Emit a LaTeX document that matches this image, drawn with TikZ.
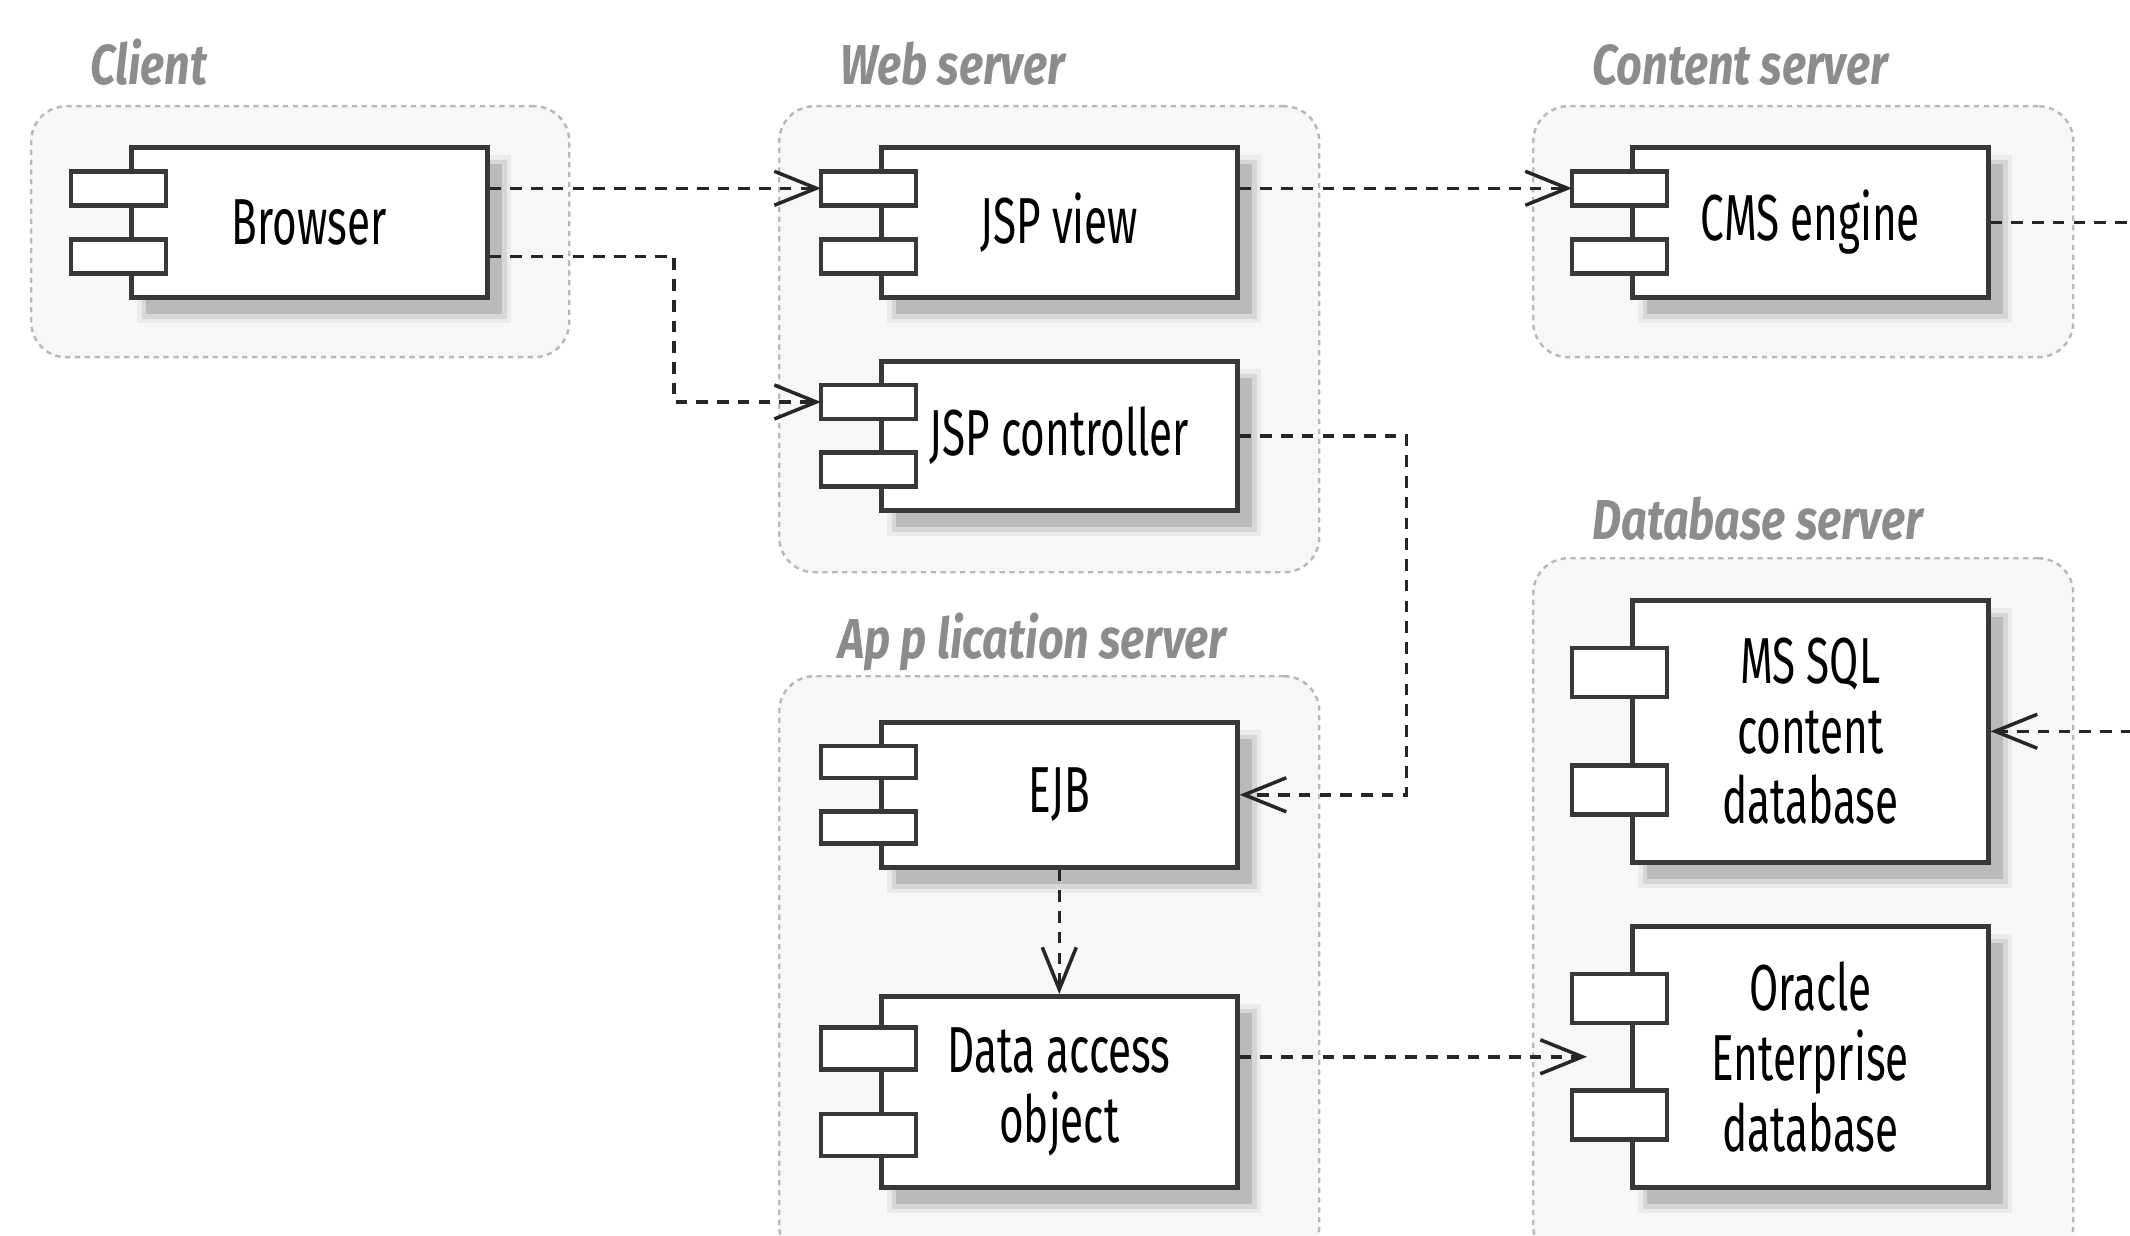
\documentclass[tikz,border=0pt]{standalone}
\usepackage{fontspec}
\setmainfont[FakeStretch=0.65]{Fira Sans}
\newfontfamily\grpfont[FakeStretch=0.8]{Fira Sans}
\usetikzlibrary{calc, arrows.meta, shadows, positioning}

\begin{document}
\begin{tikzpicture}
            \tikzset{
                group/.style={
                    draw=black!28, fill=black!3, line width=0.7pt,
                    dash pattern=on 1.5pt off 1.3pt,
                    rounded corners=0.35cm, anchor=north west, inner sep=0pt
                },
                group label/.style={
                    anchor=base west, text=black!45,
                    font=\grpfont\bfseries\itshape\fontsize{16}{18}\selectfont
                },
                comp/.style={
                    draw=black!78, fill=white, line width=1.3pt,
                    anchor=north west, minimum width=3.56cm, inner sep=0pt,
                    align=center, font=\fontsize{18.5}{20}\selectfont,
                    general shadow={shadow xshift=0.15cm, shadow yshift=-0.17cm,
                        fill=black!8, draw=black!8, line width=0.18cm},
                    general shadow={shadow xshift=0.15cm, shadow yshift=-0.17cm,
                        fill=black!16, draw=black!16, line width=0.09cm},
                    general shadow={shadow xshift=0.15cm, shadow yshift=-0.17cm,
                        fill=black!27, draw=none}
                },
                port/.style={draw=black!78, fill=white, line width=1.3pt},
                dep/.style={
                    draw=black!85, line width=1pt, dash pattern=on 3.3pt off 2.6pt,
                    -{Straight Barb[length=0.42cm, width=0.34cm]}
                }
            }

            % page frame, the right side runs off the page
            \path[use as bounding box] (0,0) rectangle (21.3,-12.36);
            \clip (0,0) rectangle (21.3,-12.36);

            % --- NODES (the servers) ---
            \node[group, minimum width=5.38cm, minimum height=2.51cm] (client) at (0.30,-1.05) {};
            \node[group, minimum width=5.40cm, minimum height=4.66cm] (websrv) at (7.78,-1.05) {};
            \node[group, minimum width=5.40cm, minimum height=2.51cm] (contsrv) at (15.32,-1.05) {};
            \node[group, minimum width=5.40cm, minimum height=5.85cm] (appsrv) at (7.78,-6.75) {};
            \node[group, minimum width=5.40cm, minimum height=7.03cm] (dbsrv) at (15.32,-5.57) {};

            \node[group label] (clientlbl) at ([shift={(0.48,0.2)}]client.north west) {Client};
            \node[group label] (weblbl) at ([shift={(0.50,0.2)}]websrv.north west) {Web server};
            \node[group label] (contlbl) at ([shift={(0.48,0.2)}]contsrv.north west) {Content server};
            \node[group label] (applbl) at ([shift={(0.48,0.16)}]appsrv.north west) {Ap p lication server};
            \node[group label] (dblbl) at ([shift={(0.48,0.18)}]dbsrv.north west) {Database server};

            % --- COMPONENTS ---
            \node[comp, minimum height=1.50cm] (browser) at (1.29,-1.45) {Browser};
            \node[comp, minimum height=1.50cm] (jspview) at (8.79,-1.45) {JSP view};
            \node[comp, minimum height=1.49cm] (jspctrl) at (8.79,-3.59) {JSP controller};
            \node[comp, minimum height=1.50cm] (cms) at (16.30,-1.45) {CMS engine};
            \node[comp, minimum height=1.45cm] (ejb) at (8.79,-7.20) {EJB};
            \node[comp, minimum height=1.91cm] (dao) at (8.79,-9.94) {Data access\\object};
            \node[comp, minimum height=2.62cm] (mssql) at (16.30,-5.98) {MS SQL\\content\\database};
            \node[comp, minimum height=2.61cm] (oracle) at (16.30,-9.24) {Oracle\\Enterprise\\database};

            % the two little port boxes on the left edge
            \foreach \n/\ph in {browser/0.34, jspview/0.34, jspctrl/0.34, cms/0.34,
                                ejb/0.32, dao/0.42, mssql/0.49, oracle/0.49} {
                \path (\n.north west) -- (\n.south west)
                    coordinate[pos=0.28] (\n-p1) coordinate[pos=0.72] (\n-p2);
                \draw[port] ([shift={(-0.58,\ph/2)}]\n-p1) rectangle ++(0.95,-\ph);
                \draw[port] ([shift={(-0.58,\ph/2)}]\n-p2) rectangle ++(0.95,-\ph);
                \coordinate (\n-in) at ([xshift=-0.58cm]\n-p1);
            }

            % --- DEPENDENCIES ---
            \coordinate (cmsout) at ($(cms.east)+(2,0)$);
            \draw[dep] (browser.east |- browser-p1) -- (jspview-in);
            \draw[dep] (browser.east |- browser-p2) -| ([xshift=-1.47cm]jspctrl-in) -- (jspctrl-in);
            \draw[dep] (jspview.east |- jspview-p1) -- (cms-in);
            \draw[dep] (jspctrl.east) -- ++(1.67,0) |- (ejb.east);
            \draw[dep] (ejb.south) -- (dao.north);
            \draw[dep] (dao.east |- oracle.west) -- ([xshift=-0.43cm]oracle.west);
            \draw[dep] (cms.east) -- (cmsout) |- (mssql.east);
\end{tikzpicture}
\end{document}
